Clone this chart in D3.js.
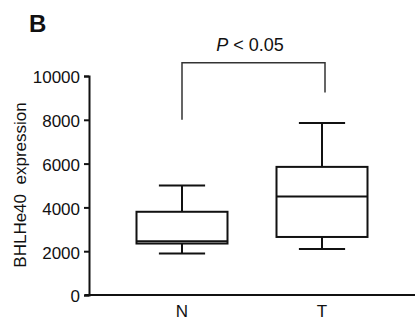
<!DOCTYPE html>
<html>
<head>
<meta charset="utf-8">
<script src="https://cdn.jsdelivr.net/npm/d3@7"></script>
<style>
  body { margin: 0; background: #fff; }
  svg { display: block; font-family: 'Liberation Sans', Arial, sans-serif; }
</style>
</head>
<body>
<script>
// box plot data
let groups = ['N', 'T']
let mins = [1900, 2100]
let q1s = [2350, 2650]
let medians = [2450, 4500]
let q3s = [3800, 5850]
let maxs = [5000, 7850]
let yTicks = [0, 2000, 4000, 6000, 8000, 10000]
// significance bracket: top, left leg end, right leg end
let bracketVals = [10600, 8000, 9250]

let width = 415
let height = 321

let svg = d3.select('body').append('svg')
    .attr('width', width)
    .attr('height', height)

let xScale = d3.scaleBand()
    .domain(groups)
    .range([112, 392])

let yScale = d3.scaleLinear()
    .domain([0, 10000])
    .range([295, 76])

let boxW = xScale.bandwidth() * 0.65
let capW = xScale.bandwidth() * 0.33
let cx = g => xScale(g) + xScale.bandwidth() / 2

let rows = groups.map((g, i) => ({
    g: g, min: mins[i], q1: q1s[i], med: medians[i], q3: q3s[i], max: maxs[i]
}))

// axes
let yAxis = d3.axisLeft(yScale)
    .tickValues(yTicks)
    .tickSize(5)
    .tickPadding(4)
    .tickFormat(d3.format('d'))

let gy = svg.append('g')
    .attr('transform', 'translate(89, 0)')
    .call(yAxis)
gy.select('.domain').attr('stroke', '#111').attr('stroke-width', 2)
gy.selectAll('.tick line').attr('stroke', '#111').attr('stroke-width', 2)
gy.selectAll('.tick text')
    .attr('fill', '#111')
    .style('font-size', '17px')
    .attr('dy', '0.4em')

let xAxis = d3.axisBottom(xScale)
    .tickSize(0)
    .tickPadding(10)

let gx = svg.append('g')
    .attr('transform', 'translate(0, 295)')
    .call(xAxis)
gx.select('.domain').remove()
gx.append('line')
    .attr('x1', 85).attr('x2', width)
    .attr('stroke', '#111').attr('stroke-width', 2.2)
gx.selectAll('.tick text')
    .attr('fill', '#111')
    .style('font-size', '17px')

// y label
svg.append('text')
    .attr('transform', 'translate(26, 185) rotate(-90)')
    .attr('text-anchor', 'middle')
    .attr('fill', '#111')
    .style('font-size', '17px')
    .style('white-space', 'pre')
    .text('BHLHe40  expression')

// panel letter
svg.append('text')
    .attr('x', 29).attr('y', 32)
    .attr('fill', '#111')
    .style('font-size', '24px')
    .style('font-weight', 'bold')
    .text('B')

// boxes
let box = svg.selectAll('.box')
    .data(rows)
    .enter()
    .append('g')
    .attr('class', 'box')

box.append('line')
    .attr('x1', d => cx(d.g)).attr('x2', d => cx(d.g))
    .attr('y1', d => yScale(d.max)).attr('y2', d => yScale(d.q3))
box.append('line')
    .attr('x1', d => cx(d.g)).attr('x2', d => cx(d.g))
    .attr('y1', d => yScale(d.q1)).attr('y2', d => yScale(d.min))
box.append('line')
    .attr('x1', d => cx(d.g) - capW / 2).attr('x2', d => cx(d.g) + capW / 2)
    .attr('y1', d => yScale(d.max)).attr('y2', d => yScale(d.max))
box.append('line')
    .attr('x1', d => cx(d.g) - capW / 2).attr('x2', d => cx(d.g) + capW / 2)
    .attr('y1', d => yScale(d.min)).attr('y2', d => yScale(d.min))
box.append('rect')
    .attr('x', d => cx(d.g) - boxW / 2)
    .attr('width', boxW)
    .attr('y', d => yScale(d.q3))
    .attr('height', d => yScale(d.q1) - yScale(d.q3))
    .attr('fill', 'none')
box.append('line')
    .attr('x1', d => cx(d.g) - boxW / 2).attr('x2', d => cx(d.g) + boxW / 2)
    .attr('y1', d => yScale(d.med)).attr('y2', d => yScale(d.med))
box.selectAll('line, rect')
    .attr('stroke', '#111')
    .attr('stroke-width', 2)

// significance bracket
let bx1 = cx('N')
let bx2 = cx('T') + 3
svg.append('path')
    .attr('d', `M${bx1},${yScale(bracketVals[1])} V${yScale(bracketVals[0])} H${bx2} V${yScale(bracketVals[2])}`)
    .attr('fill', 'none')
    .attr('stroke', '#333')
    .attr('stroke-width', 1.5)

let pText = svg.append('text')
    .attr('x', 250)
    .attr('y', 51)
    .attr('text-anchor', 'middle')
    .attr('fill', '#111')
    .style('font-size', '18px')
    .style('white-space', 'pre')
pText.append('tspan').style('font-style', 'italic').text('P')
pText.append('tspan').text(' < 0.05')
</script>
</body>
</html>
